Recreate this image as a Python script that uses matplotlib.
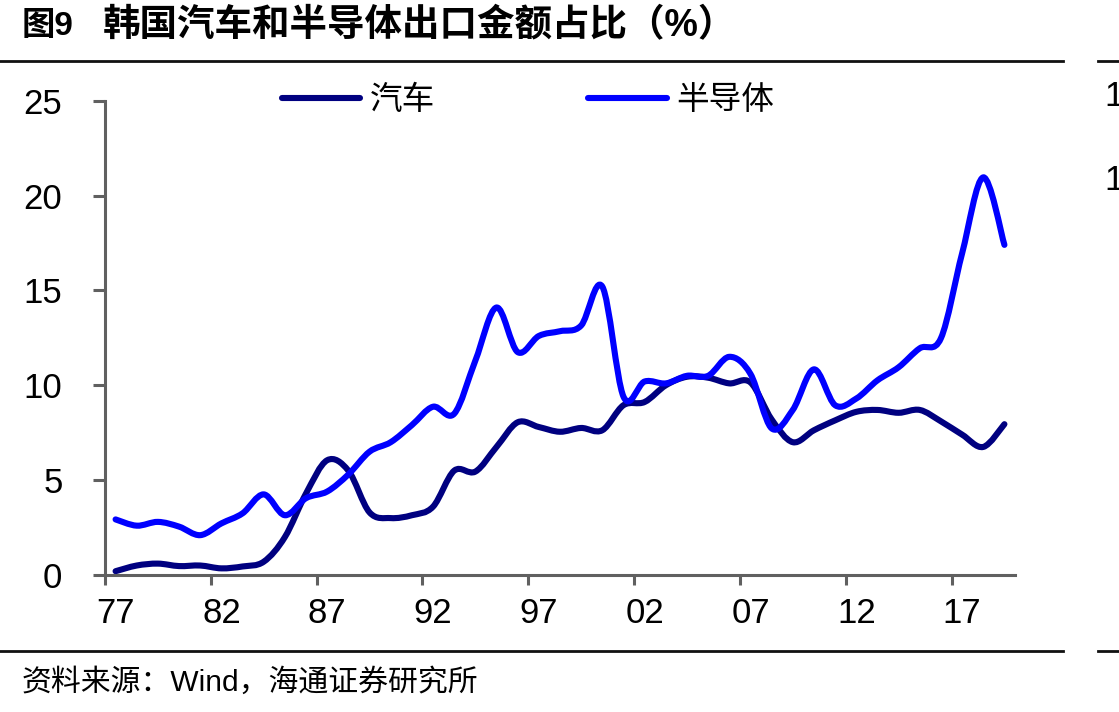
import matplotlib
matplotlib.use("Agg")
import matplotlib.pyplot as plt
from matplotlib.path import Path
from matplotlib.patches import PathPatch
from matplotlib.lines import Line2D

plt.rcParams['font.family'] = ['Liberation Sans', 'Noto Sans CJK SC', 'DejaVu Sans']

# 韩国汽车和半导体出口金额占比（%），1977-2019
years = list(range(1977, 2020))
auto = [0.2, 0.5, 0.6, 0.47, 0.5, 0.35, 0.45, 0.7, 2.0, 4.3,
        6.05, 5.5, 3.3, 3.0, 3.15, 3.6, 5.5, 5.45, 6.75, 8.05,
        7.8, 7.55, 7.75, 7.63, 8.95, 9.12, 10.0, 10.45, 10.4, 10.1,
        10.15, 8.2, 7.0, 7.63, 8.15, 8.6, 8.7, 8.55, 8.7, 8.1,
        7.4, 6.75, 7.95]
semi = [2.93, 2.6, 2.8, 2.55, 2.1, 2.72, 3.25, 4.25, 3.15, 4.05,
        4.4, 5.3, 6.5, 7.0, 7.9, 8.87, 8.5, 11.3, 14.1, 11.75,
        12.6, 12.85, 13.15, 15.2, 9.4, 10.2, 10.1, 10.5, 10.5, 11.5,
        10.6, 7.73, 8.7, 10.84, 8.95, 9.3, 10.26, 10.95, 11.95, 12.48,
        16.95, 20.96, 17.4]
series_names = ['汽车', '半导体']
series_colors = ['#000080', '#0000FF']
yticks = [0, 5, 10, 15, 20, 25]


def smooth_path(xs, ys):
    # bezier through every point, like the smoothed line in the source chart
    pts = list(zip(xs, ys))
    verts = [pts[0]]
    codes = [Path.MOVETO]
    n = len(pts)
    for i in range(n - 1):
        p0 = pts[i - 1] if i > 0 else pts[i]
        p1 = pts[i]
        p2 = pts[i + 1]
        p3 = pts[i + 2] if i + 2 < n else pts[i + 1]
        c1 = (p1[0] + (p2[0] - p0[0]) / 6, p1[1] + (p2[1] - p0[1]) / 6)
        c2 = (p2[0] - (p3[0] - p1[0]) / 6, p2[1] - (p3[1] - p1[1]) / 6)
        verts += [c1, c2, p2]
        codes += [Path.CURVE4] * 3
    return Path(verts, codes)


W, H = 1119, 712
fig = plt.figure(figsize=(W / 100, H / 100), dpi=100)
ax = fig.add_axes([105 / W, 1 - 575 / H, (1015 - 105) / W, (575 - 100.7) / H])

xs = list(range(len(years)))
for vals, col in zip([auto, semi], series_colors):
    patch = PathPatch(smooth_path(xs, vals), fill=False, edgecolor=col, lw=4.4,
                      capstyle='round', joinstyle='round', transform=ax.transData)
    ax.add_patch(patch)

ax.set_xlim(-0.5, len(years) - 0.5)
ax.set_ylim(0, 25)
ax.set_yticks(yticks)

major = [i - 0.5 for i in range(0, len(years), 5)]
minor = list(range(0, len(years), 5))
ax.set_xticks(major)
ax.set_xticklabels([''] * len(major))
ax.set_xticks(minor, minor=True)
ax.set_xticklabels(['%02d' % (years[i] % 100) for i in minor], minor=True)

axis_col = '#606060'
for s in ['top', 'right']:
    ax.spines[s].set_visible(False)
for s in ['left', 'bottom']:
    ax.spines[s].set_color(axis_col)
    ax.spines[s].set_linewidth(2.2)
ax.tick_params(axis='y', which='major', direction='out', length=8.6, width=2.2,
               color=axis_col, labelsize=25, pad=22)
ax.tick_params(axis='x', which='major', direction='out', length=7.5, width=2.2,
               color=axis_col)
ax.tick_params(axis='x', which='minor', length=0, labelsize=25, pad=16)

handles = [Line2D([], [], color=c, lw=4.4, solid_capstyle='round') for c in series_colors]
fig.legend(handles, series_names, loc='center', bbox_to_anchor=(528 / W, 1 - 101 / H),
           ncol=2, frameon=False, fontsize=23.5, handlelength=2.4, handletextpad=0.3,
           columnspacing=4.7)

# title, separating lines, source
fig.text(22 / W, 1 - 26 / H, '图9', fontsize=24, fontweight='bold', va='center', ha='left')
fig.text(103 / W, 1 - 26 / H, '韩国汽车和半导体出口金额占比（%）', fontsize=27,
         fontweight='bold', va='center', ha='left')
for yy in [60.7, 651]:
    fig.add_artist(Line2D([0, 1063 / W], [1 - yy / H] * 2, color='#111111', lw=2))
    fig.add_artist(Line2D([1098 / W, 1], [1 - yy / H] * 2, color='#111111', lw=2))
fig.text(22 / W, 1 - 683 / H, '资料来源：Wind，海通证券研究所', fontsize=21.5, va='center', ha='left')

# edge of the neighbouring chart, cut by the picture border as in the source
for yy in [97, 180]:
    fig.text(1104 / W, 1 - yy / H, '1', fontsize=25, va='center', ha='left')

fig.savefig('out.png', dpi=100)
